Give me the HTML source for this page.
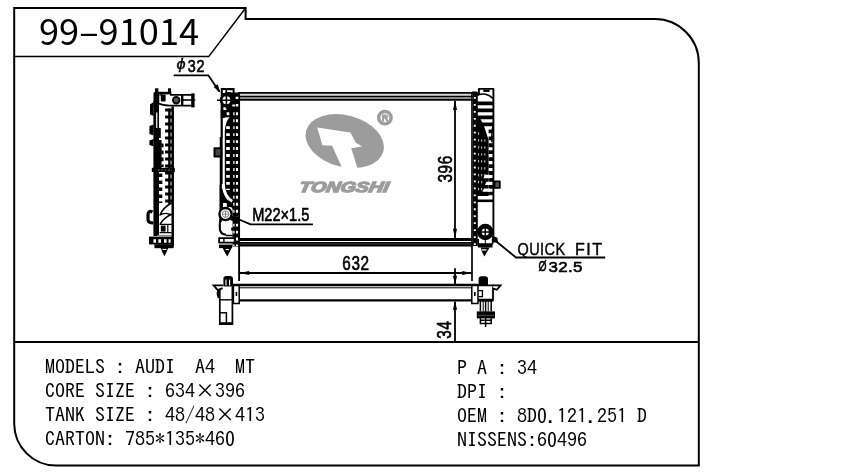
<!DOCTYPE html>
<html lang="en">
<head>
<meta charset="utf-8">
<title>99-91014</title>
<style>
html,body{margin:0;padding:0;background:#fff;}
body{width:848px;height:476px;position:relative;overflow:hidden;font-family:"Liberation Sans",sans-serif;color:#000;}
#dwg{position:absolute;left:0;top:0;width:848px;height:476px;will-change:transform;}
.title{will-change:transform;position:absolute;left:39.4px;top:3.8px;font:400 36px/50px "Liberation Sans","Noto Sans CJK SC",sans-serif;font-family:"Noto Sans CJK SC","Liberation Sans",sans-serif;white-space:pre;transform-origin:0 0;transform:scaleX(1.006);}
.spec{will-change:transform;position:absolute;font:20px/24px "IPAGothic","Liberation Mono",monospace;white-space:pre;color:#000;}
#specL{left:45.4px;top:354px;}
#specR{left:457px;top:355px;}
.z{font-family:"Noto Sans Mono CJK SC","IPAGothic","Liberation Mono",monospace;font-weight:300;}
</style>
</head>
<body>
<svg id="dwg" width="848" height="476" viewBox="0 0 848 476">
<!-- FRAME -->
<g fill="none" stroke="#000" stroke-width="1.7" stroke-linejoin="miter">
<path d="M14.2,8 H245.6 V19 H655 A44,44 0 0 1 698.8,63 V465.6 H56 A42,42 0 0 1 14.2,424 Z" stroke-width="2"/>
<path d="M14.2,56.6 H208.7 L245.6,8" stroke-width="1.5"/>
<path d="M14.2,342 H698.8" stroke-width="2"/>
</g>
<!-- DRAWING -->
<g id="core" fill="none" stroke="#000">
<!-- top bar -->
<rect x="240" y="93.6" width="232" height="2.2" fill="#d2d2d2" stroke="none"/>
<rect x="240" y="96.8" width="232" height="2.4" fill="#8a8a8a" stroke="none"/>
<path d="M239.6,92.9 H472.4" stroke-width="1.9"/>
<path d="M239.6,96.3 H472.4" stroke-width="1.2"/>
<path d="M239.6,99.9 H472.4" stroke-width="1.6"/>
<!-- bottom bar -->
<path d="M239.6,239.5 H472.4" stroke-width="2.9"/>
<path d="M239.6,244.3 H472.4" stroke-width="4.6"/>
<path d="M239.6,243.9 H472.4" stroke-width="0.6" stroke="#777"/>
<!-- core side edges / extension lines -->
<path d="M239.1,92 V281" stroke-width="1.9"/>
<path d="M472,92 V281" stroke-width="1.7"/>
</g>
<!-- LEFT TANK (front view) -->
<g id="ltank" fill="none" stroke="#000" stroke-linejoin="round" stroke-linecap="butt">
<!-- top cap -->
<rect x="220.8" y="88" width="13.8" height="24" fill="#000" stroke="none"/>
<path d="M222.8,90 h2.6 v3 h-2.6 z M227,90.2 h5.6 v3.6 h-2 v-1.8 h-3.6 z" fill="#fff" stroke="none"/>
<!-- fin band -->
<path d="M224.8,92.4 H240 V246.6 H232.6 V209 L231.5,203.6 C227,200 224.8,194 224.8,186 Z" fill="#000" stroke="none"/>
<rect x="220.8" y="104" width="5" height="14" fill="#000" stroke="none"/>
<!-- white holes -->
<path d="M228,126.2 V190" stroke="#fff" stroke-width="3.6" stroke-dasharray="2.9 4.06"/>
<path d="M233.9,112.3 V246" stroke="#fff" stroke-width="1.3" stroke-dasharray="2.9 4.06"/>
<path d="M237,112.3 V246" stroke="#fff" stroke-width="2.1" stroke-dasharray="2.9 4.06"/>
<path d="M228,112.3 v2.9 M237,96.8 v2.2 M237,104 v2.4 M233.6,104.4 v2.2 M223.4,108.6 h3" stroke="#fff" stroke-width="2.6"/>
<path d="M222.7,118.6 C224.5,117.4 227,117 229.6,117.2 C227,120 225.4,124 224.8,130 L222.7,130 Z" fill="#fff" stroke="none"/>
<!-- top port circle -->
<circle cx="226.4" cy="100.2" r="5.3" stroke-width="2.7" fill="#fff"/>
<path d="M217,100.2 H234.5 M226.4,92 V108.5" stroke-width="1.5"/>
<!-- left profile line -->
<path d="M221.7,110 V138" stroke-width="2.2"/>
<path d="M221.2,137 V186" stroke-width="2.9"/>
<path d="M220.6,185 V222" stroke-width="2.3"/>
<!-- small bracket box -->
<rect x="214.5" y="148.2" width="6.8" height="8.2" stroke-width="2" fill="#444"/>
<!-- lower hose curve -->
<path d="M220.2,188 V209 H223 V203 H226.8 V207 L231,207 L234.8,211 L231.8,203.4 C226.5,200 223.5,195 222.3,188 Z" fill="#000" stroke="none"/>
<path d="M223.2,184 C224,193.5 227.5,198.5 232.2,201.2" stroke="#fff" stroke-width="2.8"/>
<!-- M22 port circle -->
<circle cx="225.5" cy="214.1" r="6.1" stroke-width="2.3" fill="#fff"/>
<circle cx="225.5" cy="214.1" r="3.3" stroke-width="0.9" stroke="#777"/>
<path d="M222.4,214.1 h6.2 M225.5,211 v6.2" stroke-width="0.9" stroke="#777"/>
<path d="M229,218.4 C231,221 234,222.2 239,221.8 L239,217 L231.8,216.6 Z" fill="#000" stroke="none"/>
<!-- lower-left C curve -->
<path d="M220.4,219 C219.6,223 219.6,226 219.9,229.5 C220.5,232.5 223,234.6 226,234.8" stroke-width="2.1"/>
<path d="M226,235.5 H238" stroke-width="1.5"/>
<rect x="231.2" y="227.6" width="6.8" height="3" fill="#000" stroke="none"/>
<!-- foot -->
<rect x="219.1" y="238.2" width="15.6" height="4.4" stroke-width="1.8" fill="#fff"/>
<path d="M223.9,238.2 v4.4" stroke-width="1.4"/>
<rect x="219" y="244.6" width="13.2" height="3.5" fill="#000" stroke="none"/>
<path d="M222.6,248 h9 l-2.2,4.6 l-2.2,3.9 l-2.3,-3.9 z" fill="#000" stroke="none"/>
<path d="M225.6,249.6 h3.4" stroke="#fff" stroke-width="1.1"/>
</g>
<!-- RIGHT TANK (front view) -->
<g id="rtank" fill="none" stroke="#000" stroke-linejoin="round" stroke-linecap="butt">
<!-- outline -->
<path d="M478.9,94 V88.9 H493.4 V240" stroke-width="1.9"/>
<path d="M472,92.3 H476.6 L478.4,94" stroke-width="1.6"/>
<rect x="483.3" y="89.6" width="6.3" height="2.3" fill="#000" stroke="none"/>
<path d="M476.8,95.6 C481,92.6 488,93.6 493.2,98.6" stroke-width="1.5"/>
<!-- dotted left column -->
<rect x="473" y="93" width="4.8" height="153" fill="#000" stroke="none"/>
<path d="M474.8,97 V246" stroke="#fff" stroke-width="2" stroke-dasharray="1.8 5.16"/>
<!-- slats (upper) -->
<path d="M485,101.5 V128" stroke="#000" stroke-width="16" stroke-dasharray="3.8 3.16"/>
<!-- black wedge + band -->
<path d="M477,116 L480,118 L484,126 L488.6,140 V196 H477 Z" fill="#000" stroke="none"/>
<path d="M490.8,129.5 V193" stroke="#000" stroke-width="4.4" stroke-dasharray="3.8 3.13"/>
<path d="M493.4,124 C492.2,128 491.6,134 491.8,142" stroke-width="1.4"/>
<!-- faint dots in band -->
<path d="M478.6,132.4 V192 M481.7,139.4 V192 M484.8,139.4 V176" stroke="#fff" stroke-width="1" stroke-dasharray="2.4 4.53" opacity="0.8"/>
<!-- lower diagonal white slots -->
<path d="M485,174.8 h5 v3.4 h-6.6 z M486.4,181.7 h3.6 v3.4 h-5 z M484,188.6 h6 v3.2 h-7.6 z" fill="#fff" stroke="none"/>
<!-- last slats -->
<rect x="477" y="192.4" width="16" height="2.8" fill="#000" stroke="none"/>
<rect x="477" y="199.5" width="16" height="2.6" fill="#000" stroke="none"/>
<!-- small box -->
<rect x="494.6" y="181.3" width="5.2" height="6.6" stroke-width="1.8" fill="#555"/>
<!-- quick-fit circle -->
<circle cx="485.3" cy="232" r="5.9" stroke-width="4.6" fill="#fff"/>
<path d="M481.6,232 h7.4 M485.3,228.3 v7.4" stroke-width="1.5"/>
<!-- foot -->
<path d="M478.2,239 L478.2,244 H492.6 L492.6,239" stroke-width="1.5"/>
<path d="M485.3,240 v4" stroke-width="1"/>
<rect x="477.9" y="244" width="14.6" height="3.5" fill="#000" stroke="none"/>
<path d="M480.8,247.4 h8.8 l-2.6,4.6 l-2.6,4.6 l-2.4,-4.6 z" fill="#000" stroke="none"/>
<path d="M482,249.9 h4.6" stroke="#fff" stroke-width="1.3"/>
<!-- quick fit arrow blob -->
<path d="M491.4,235.6 L497.4,237.8 L498,242.4 L493.2,242.4 Z" fill="#000" stroke="none"/>
</g>
<!-- SIDE VIEW -->
<g id="side" fill="none" stroke="#000" stroke-linejoin="round" stroke-linecap="butt">
<!-- top posts and bar -->
<rect x="155" y="88.3" width="3.4" height="5" fill="#000" stroke="none"/>
<rect x="168" y="88.3" width="3" height="5" fill="#000" stroke="none"/>
<rect x="154.4" y="91.8" width="17" height="2.6" fill="#000" stroke="none"/>
<!-- bracket -->
<path d="M170,94.8 H193 M159,103.6 C164,105.6 170,105.8 176,105.7 H193" stroke-width="1.7"/>
<rect x="191.2" y="93.4" width="3.4" height="14" fill="#000" stroke="none"/>
<path d="M182.2,94.8 V105.7" stroke-width="2.4"/>
<path d="M183,100 H192" stroke-width="1.6"/>
<path d="M194,100 h1.6" stroke-width="1"/>
<circle cx="176.2" cy="100.2" r="3.3" fill="#555" stroke-width="1.8"/>
<!-- left black blocks -->
<rect x="153.5" y="92.6" width="5.8" height="10" fill="#000" stroke="none"/>
<rect x="160.8" y="94.6" width="4.8" height="6.8" fill="#000" stroke="none"/>
<path d="M159.4,95 L161.2,95 L161.2,93.8" stroke-width="1.2"/>
<!-- left wall -->
<path d="M156.2,101 V236" stroke-width="5.6"/>
<path d="M156.7,112.5 V128" stroke="#ddd" stroke-width="1.5"/>
<!-- left blobs -->
<path d="M153.6,102 L150,104.5 V114.6 L153.6,116 Z M153.6,124.6 L149.4,126 V134 L153.6,135.6 Z M153.6,139 L149.4,140.4 V145 L153.6,146.6 Z" fill="#000" stroke="none"/>
<path d="M159,128 h1.8 v10 h-1.8 z M159,140 h2.6 v28 h-2.6 z" fill="#000" stroke="none"/>
<path d="M162.4,143.5 V167" stroke-width="2.4" stroke-dasharray="3.8 3.2"/>
<path d="M160.6,173.4 V203" stroke-width="3.4" stroke-dasharray="3.6 3.4"/>
<!-- right ladder -->
<path d="M172.7,106.5 V246.5" stroke-width="2.5"/>
<path d="M169.4,108.6 V204" stroke-width="2.4"/>
<path d="M168.6,108.6 V204" stroke-width="7" stroke-dasharray="2.9 4.1"/>
<path d="M170.6,112 V204" stroke="#fff" stroke-width="1.2" stroke-dasharray="3 4" opacity="0"/>
<!-- middle cross band -->
<rect x="151.8" y="167.8" width="23" height="4.2" fill="#000" stroke="none"/>
<path d="M158,170 H172" stroke="#888" stroke-width="1" stroke-dasharray="1.6 1.8"/>
<!-- hook -->
<path d="M152.4,212.2 C149.6,210.4 148,212 148,215 V219.5 C148,222.4 150,223 153.4,223" stroke-width="3.2"/>
<!-- lower zigzag -->
<path d="M171.6,203 C166,206 162,210 160,215 C163,213 168,213 171.6,215 M171.6,214 C166,217 162,220 160,224.5" stroke-width="1.5"/>
<!-- D block -->
<path d="M159.6,224.4 H171.6 M159.6,232.6 H171.6" stroke-width="1.4"/>
<rect x="160.8" y="225.6" width="4.8" height="6" fill="#000" stroke="none"/>
<path d="M167.8,225 V232" stroke-width="1.2"/>
<path d="M157,235.4 H172" stroke="#777" stroke-width="1"/>
<!-- bottom block -->
<rect x="149" y="236.6" width="24.6" height="7.8" fill="#000" stroke="none"/>
<path d="M153.4,239.2 h2.6 v3.6 h-2.6 z M158.4,239.2 h2.6 v3.6 h-2.6 z M164,239.2 h2.6 v3.6 h-2.6 z M168.6,239.2 h2 v3.6 h-2 z" fill="#fff" stroke="none"/>
<rect x="154.4" y="244.2" width="19.2" height="4" fill="#000" stroke="none"/>
<path d="M160.8,248 h7.4 l-1.6,4 l-2.2,4.2 l-2.2,-4.2 z" fill="#000" stroke="none"/>
<path d="M162.4,249.4 h4.2" stroke="#fff" stroke-width="1.1"/>
</g>
<!-- BOTTOM VIEW -->
<g id="bottom" fill="none" stroke="#000" stroke-linejoin="miter" stroke-linecap="butt">
<path d="M233,285 H478.4" stroke-width="2.3"/>
<path d="M239,287.8 H472" stroke-width="1"/>
<path d="M239,300.3 H472" stroke-width="2.3"/>
<!-- left end box -->
<path d="M239.2,284 V303.6 H233.4 V284" stroke-width="1.5"/>
<path d="M236.4,292 v4" stroke-width="1.6"/>
<!-- left fitting -->
<path d="M219.8,286.4 V324 H232.4 V286.4" stroke-width="1.7"/>
<path d="M219,299.8 H233" stroke-width="1.4"/>
<path d="M220,312.8 H226.4 V322.5" stroke-width="1.5"/>
<path d="M219,323.6 H233.2" stroke-width="2.8"/>
<path d="M218.2,290 C217.4,292.5 217.6,295.5 218.8,298" stroke-width="2.2"/>
<!-- left nub -->
<path d="M223.4,286.4 V278.6 C223.4,276.4 225,276 228,276 C231.4,276 233,276.4 233,278.6 V286.4 Z" fill="#000" stroke="none"/>
<path d="M226,279.6 v6 M229.6,279.6 v6" stroke="#fff" stroke-width="1.1"/>
<!-- left wing -->
<path d="M223,285.4 H213.6 L217.8,290.2 L222.6,288.2" stroke-width="1.8" fill="#fff"/>
<!-- right end box -->
<path d="M471.8,284 V303.6 H478 V284" stroke-width="1.5"/>
<path d="M474.8,292 v4" stroke-width="1.6"/>
<!-- right fitting -->
<path d="M478.6,285.4 H493 V299.6 H478.6" stroke-width="1.8"/>
<path d="M478.4,290.6 h4 v6 h-4" stroke-width="1.4"/>
<path d="M478.6,286 V278.8 C478.6,276.6 480,276.2 483.2,276.2 C486.4,276.2 488,276.6 488,278.8 V286 Z" fill="#000" stroke="none"/>
<path d="M492.6,285.4 H500.6 L496.8,289.8 L493,288.4" stroke-width="1.8" fill="#fff"/>
<path d="M478,300.4 H493.4" stroke-width="2.6"/>
<!-- right pipe -->
<path d="M480.4,301 V311.6 M491.2,301 V311.6 M485.6,301 V327" stroke-width="1.5"/>
<path d="M483.2,301 V311.6 M488.2,301 V311.6" stroke-width="1"/>
<rect x="476.8" y="311.4" width="18.2" height="7" fill="#000" stroke="none"/>
<path d="M478,315.3 H494" stroke="#666" stroke-width="0.8"/>
<path d="M480.4,318 V323.6 H491.2 V318 M480,320.2 H491.6" stroke-width="1.5"/>
</g>
<!-- LOGO -->
<g id="logo" fill="#9c9c9c" stroke="none">
<ellipse cx="344.7" cy="141.1" rx="40" ry="25.8" transform="rotate(15 344.7 141.1)"/>
<path d="M317.1,127.5 L350.5,132.5 L353,137.4 L356,142.8 L362.1,146.6 L351.2,148.2 L357.8,169 L342.6,169 L332.1,145.8 L322.5,145.2 Z" fill="#fff"/>
<circle cx="384.9" cy="117.7" r="6.2" fill="none" stroke="#9c9c9c" stroke-width="3.4"/>
<text x="384.9" y="120.9" font-family="'Liberation Sans',sans-serif" font-weight="bold" font-size="9" text-anchor="middle" stroke="#9c9c9c" stroke-width="0.8">R</text>
<text transform="translate(298.6,191.8) scale(1.35,1) skewX(-8)" font-family="'Liberation Sans',sans-serif" font-weight="bold" font-style="italic" font-size="14.6" stroke="#9c9c9c" stroke-width="1.3" stroke-linejoin="miter">TONGSHI</text>
</g>
<!-- DIMENSIONS -->
<g id="dims" fill="none" stroke="#000" stroke-width="1.8">
<path d="M240,273 H471.5"/>
<path d="M239.6,273 l9.6,-2 v4 z M471.8,273 l-9.6,-2 v4 z" fill="#000" stroke="none"/>
<path d="M455,100.8 V238"/>
<path d="M455,100.4 l-2,9.6 h4 z M455,238.4 l-2,-9.6 h4 z" fill="#000" stroke="none"/>
<path d="M455,268.3 V284 M455,301.5 V342"/>
<path d="M455,284.4 l-2.1,-8.6 h4.2 z M455,301.2 l-2.1,8.6 h4.2 z" fill="#000" stroke="none"/>
<!-- leaders -->
<path d="M173.7,75.4 H208.4 L219.3,91.6" stroke-width="1.8"/>
<path d="M220.5,92.8 L213.6,87 L217.6,84.2 Z" fill="#000" stroke="none"/>
<path d="M312.9,224.4 H250.5 L232,216.5" stroke-width="1.8"/>
<path d="M605.2,257.5 H516 L494.8,240.3" stroke-width="1.8"/>
</g>
<g id="dimtext" font-family="'Liberation Sans',sans-serif" fill="#000" stroke="#000" stroke-width="0.65">
<text transform="translate(342.2,269.8) scale(0.78,1)" font-size="19.6" letter-spacing="0.9">632</text>
<text transform="translate(451.7,182.6) rotate(-90) scale(0.78,1)" font-size="19.6" letter-spacing="0.9">396</text>
<text transform="translate(451.4,338.8) rotate(-90) scale(0.78,1)" font-size="19.6" letter-spacing="0.9">34</text>
<text transform="translate(176.4,69) scale(1.12,1)" font-size="14.6" font-style="italic" stroke-width="0.4">ϕ</text>
<text transform="translate(187.8,71.6) scale(0.86,1)" font-size="16.6" letter-spacing="0.8">32</text>
<text transform="translate(252.2,220.6) scale(0.83,1)" font-size="17.6">M22×1.5</text>
<text transform="translate(517.4,255) scale(0.93,1)" font-size="15.6" letter-spacing="0.5" stroke-width="0.4">QUICK</text>
<text transform="translate(575,255) scale(1.03,1)" font-size="15.6" letter-spacing="1.4" stroke-width="0.4">FIT</text>
<text transform="translate(538.4,271.2) scale(0.72,1)" font-size="14.4" stroke-width="0.6">Ø</text>
<text transform="translate(548.4,271.5) scale(1.1,1)" font-size="15.4" stroke-width="0.6" letter-spacing="0.3">32.5</text>
</g>
</svg>
<div class="title">99–91014</div>
<div class="spec" id="specL">MODELS : AUDI  A4  MT
CORE SIZE : 634×396
TANK SIZE : 48/48×413
CARTON: 785*135*46<span class="z">0</span></div>
<div class="spec" id="specR">P A : 34
DPI :
OEM : 8D<span class="z">0</span>.121.251 D
NISSENS:6<span class="z">0</span>496</div>
</body>
</html>
